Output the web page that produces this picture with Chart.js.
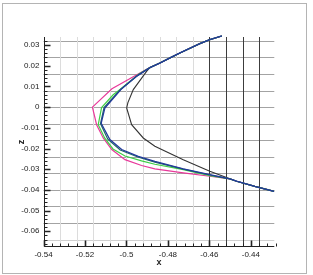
<!DOCTYPE html>
<html>
<head>
<meta charset="utf-8">
<script src="https://cdn.jsdelivr.net/npm/chart.js@4.4.1/dist/chart.umd.min.js"></script>
<style>
  html, body { margin: 0; padding: 0; background: #fff; }
</style>
</head>
<body>
<canvas id="chart" width="313" height="275"></canvas>
<script>
// --- axis ticks ---
const xTicks = [-0.54, -0.52, -0.5, -0.48, -0.46, -0.44];
const zTicks = [0.03, 0.02, 0.01, 0, -0.01, -0.02, -0.03, -0.04, -0.05, -0.06];

// --- mesh lines (x dark from -0.46 on) ---
const meshX = [-0.532, -0.524, -0.516, -0.508, -0.5, -0.492, -0.484, -0.476, -0.468, -0.46, -0.452, -0.444, -0.436];
const meshZ = [0.032, 0.024, 0.016, 0.008, 0, -0.008, -0.016, -0.024, -0.032, -0.04, -0.048, -0.056, -0.064];

// --- curves ---
const pinkX = [-0.4540, -0.4598, -0.4646, -0.4742, -0.4790, -0.4839, -0.4887, -0.4905, -0.5070, -0.5164, -0.5144, -0.5112, -0.5071, -0.5007, -0.4927, -0.4863, -0.4726, -0.4598, -0.4501, -0.4469, -0.4381, -0.4288];
const pinkZ = [0.0344, 0.0326, 0.0307, 0.0262, 0.0238, 0.0213, 0.0191, 0.0182, 0.0089, 0.0000, -0.0085, -0.0149, -0.0205, -0.0254, -0.0282, -0.0298, -0.0318, -0.0334, -0.0347, -0.0358, -0.0383, -0.0407];

const greenX = [-0.4540, -0.4598, -0.4646, -0.4742, -0.4790, -0.4839, -0.4887, -0.4940, -0.5031, -0.5064, -0.5120, -0.5136, -0.5105, -0.5065, -0.5007, -0.4927, -0.4863, -0.4726, -0.4598, -0.4501, -0.4469, -0.4381, -0.4288];
const greenZ = [0.0344, 0.0326, 0.0307, 0.0262, 0.0238, 0.0213, 0.0191, 0.0160, 0.0085, 0.0060, -0.0002, -0.0085, -0.0149, -0.0202, -0.0236, -0.0260, -0.0276, -0.0302, -0.0331, -0.0347, -0.0358, -0.0383, -0.0407];

const blueX = [-0.4540, -0.4598, -0.4646, -0.4742, -0.4790, -0.4839, -0.4887, -0.4950, -0.5027, -0.5104, -0.5122, -0.5080, -0.5023, -0.4943, -0.4863, -0.4726, -0.4598, -0.4501, -0.4469, -0.4381, -0.4288];
const blueZ = [0.0344, 0.0326, 0.0307, 0.0262, 0.0238, 0.0213, 0.0191, 0.0150, 0.0085, -0.0004, -0.0078, -0.0157, -0.0205, -0.0238, -0.0262, -0.0298, -0.0326, -0.0347, -0.0358, -0.0383, -0.0407];

const tealX = [-0.4540, -0.4598, -0.4646, -0.4742, -0.4790, -0.4839, -0.4887, -0.4948, -0.5029, -0.5108, -0.5125, -0.5090, -0.5030, -0.4945, -0.4863, -0.4726, -0.4598, -0.4501, -0.4469, -0.4381, -0.4288];
const tealZ = [0.0344, 0.0326, 0.0307, 0.0262, 0.0238, 0.0213, 0.0191, 0.0152, 0.0085, -0.0002, -0.0080, -0.0155, -0.0207, -0.0241, -0.0266, -0.0300, -0.0328, -0.0347, -0.0358, -0.0383, -0.0407];

const blackX = [-0.4540, -0.4598, -0.4646, -0.4742, -0.4790, -0.4839, -0.4887, -0.4903, -0.4967, -0.4993, -0.4999, -0.4975, -0.4919, -0.4863, -0.4726, -0.4598, -0.4469, -0.4381, -0.4288];
const blackZ = [0.0344, 0.0326, 0.0307, 0.0262, 0.0238, 0.0213, 0.0191, 0.0173, 0.0085, 0.0022, -0.0004, -0.0085, -0.0149, -0.0189, -0.0254, -0.0310, -0.0358, -0.0383, -0.0407];

const X_MIN = -0.54, X_MAX = -0.4287;
const Z_MIN = -0.0676, Z_MAX = 0.0339;

function pts(xs, zs) {
    return xs.map((v, i) => ({ x: v, y: zs[i] }));
}

function fmt(v) {
    const s = String(+v.toFixed(3));
    return s === '-0' ? '0' : s;
}

const tickFont = { family: 'Liberation Sans', size: 8 };
const titleFont = { family: 'Liberation Sans', size: 9, weight: 'bold' };

// mesh, axes, inward ticks, frame
const framePlugin = {
    id: 'frame',
    beforeDatasetsDraw(chart) {
        const { ctx, chartArea: a, scales: { x, y } } = chart;
        ctx.save();
        ctx.lineWidth = 1;
        meshZ.forEach(v => {
            const py = Math.round(y.getPixelForValue(v)) + 0.5;
            ctx.strokeStyle = v < -0.06 ? '#d0d0d0' : '#a3a3a3';
            ctx.beginPath();
            ctx.moveTo(a.left, py);
            ctx.lineTo(a.right, py);
            ctx.stroke();
        });
        meshX.forEach(v => {
            const px = Math.round(x.getPixelForValue(v)) + 0.5;
            ctx.strokeStyle = v >= -0.4601 ? '#3c3c3c' : '#dcdcdc';
            ctx.beginPath();
            ctx.moveTo(px, a.top);
            ctx.lineTo(px, a.bottom);
            ctx.stroke();
        });
        ctx.restore();
    },
    afterDraw(chart) {
        const { ctx, chartArea: a, scales: { x, y } } = chart;
        ctx.save();
        ctx.strokeStyle = '#222';
        const left = Math.round(a.left) + 0.5;
        const bottom = Math.round(a.bottom) - 0.5;
        ctx.lineWidth = 1;
        ctx.beginPath();
        ctx.moveTo(left, a.top);
        ctx.lineTo(left, bottom);
        ctx.lineTo(a.right, bottom);
        ctx.stroke();

        // minor ticks
        ctx.beginPath();
        for (let k = 0; k <= 28; k++) {
            const v = X_MIN + k * 0.004;
            const px = Math.round(x.getPixelForValue(v)) + 0.5;
            ctx.moveTo(px, bottom);
            ctx.lineTo(px, bottom - 3);
        }
        for (let k = -33; k <= 16; k++) {
            const v = k * 0.002;
            const py = Math.round(y.getPixelForValue(v)) + 0.5;
            ctx.moveTo(left, py);
            ctx.lineTo(left + 3, py);
        }
        ctx.stroke();

        // major ticks
        ctx.lineWidth = 1.6;
        ctx.beginPath();
        xTicks.forEach(v => {
            const px = Math.round(x.getPixelForValue(v)) + 0.5;
            ctx.moveTo(px, bottom);
            ctx.lineTo(px, bottom - 6);
        });
        zTicks.forEach(v => {
            const py = Math.round(y.getPixelForValue(v)) + 0.5;
            ctx.moveTo(left, py);
            ctx.lineTo(left + 6, py);
        });
        ctx.stroke();

        // outer frame
        ctx.lineWidth = 1;
        ctx.strokeStyle = '#b4b4b4';
        ctx.strokeRect(2.5, 3.5, 304, 270);
        ctx.restore();
    }
};

function series(xs, zs, color, w) {
    return {
        data: pts(xs, zs),
        showLine: true,
        borderColor: color,
        backgroundColor: color,
        borderWidth: w,
        pointRadius: 0,
        tension: 0,
        clip: false
    };
}

new Chart(document.getElementById('chart'), {
    type: 'scatter',
    data: {
        datasets: [
            series(blueX, blueZ, '#24399c', 1.3),
            series(tealX, tealZ, '#1d6b62', 1.2),
            series(greenX, greenZ, '#3fcf45', 1.2),
            series(pinkX, pinkZ, '#e8399a', 1.2),
            series(blackX, blackZ, '#333333', 1.1)
        ]
    },
    options: {
        responsive: false,
        animation: false,
        devicePixelRatio: 1,
        layout: { padding: { left: 0, top: 37, right: 38.7, bottom: 0 } },
        plugins: { legend: { display: false }, tooltip: { enabled: false } },
        scales: {
            x: {
                type: 'linear',
                min: X_MIN,
                max: X_MAX,
                afterBuildTicks: s => { s.ticks = xTicks.map(v => ({ value: v })); },
                afterFit: s => { s.height = 28; },
                grid: { display: false, drawTicks: false },
                border: { display: false },
                ticks: { font: tickFont, color: '#222', padding: 3, maxRotation: 0, autoSkip: false, callback: v => fmt(v) },
                title: { display: true, text: 'x', font: titleFont, color: '#222', padding: { top: 0, bottom: 7 } }
            },
            y: {
                type: 'linear',
                min: Z_MIN,
                max: Z_MAX,
                afterBuildTicks: s => { s.ticks = zTicks.map(v => ({ value: v })); },
                afterFit: s => { s.width = 43.5; },
                grid: { display: false, drawTicks: false },
                border: { display: false },
                ticks: { font: tickFont, color: '#222', padding: 4, autoSkip: false, callback: v => fmt(v) },
                title: { display: true, text: 'z', font: titleFont, color: '#222', padding: { top: 16, bottom: 0 } }
            }
        }
    },
    plugins: [framePlugin]
});
</script>
</body>
</html>
